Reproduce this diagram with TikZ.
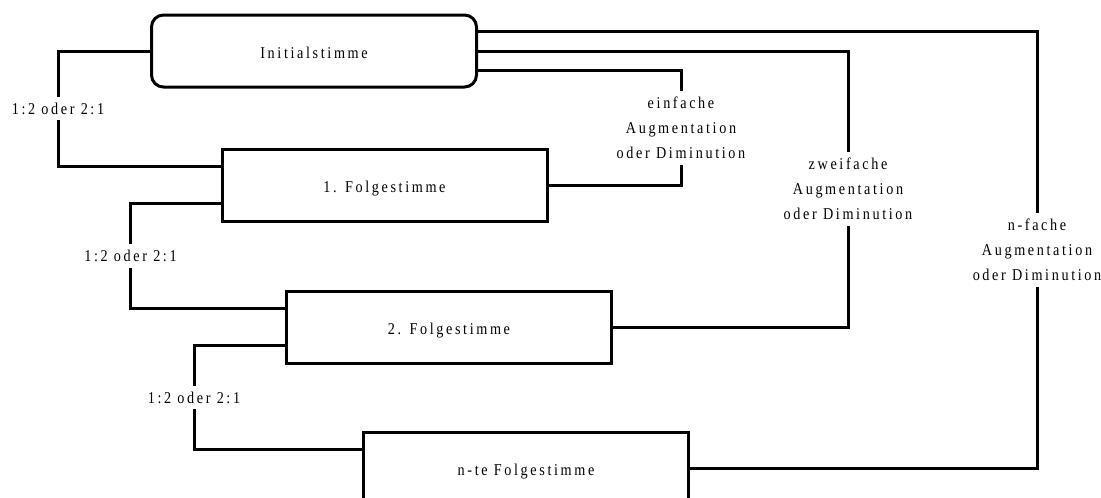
\documentclass[tikz,border=0pt]{standalone}
\usepackage{fontspec}
\setmainfont{Liberation Serif}[LetterSpace=16, FakeStretch=0.86]
\usetikzlibrary{calc}

\begin{document}
\begin{tikzpicture}[x=1pt,y=-1pt,
  line width=3pt,
  every node/.style={font=\fontsize{16.5}{25}\selectfont},
  voice/.style={draw, line width=3pt, minimum width=325pt, minimum height=72pt,
    inner sep=0pt, text height=14pt, text depth=0pt},
  lab/.style={fill=white, inner xsep=2pt, inner ysep=6pt, align=center}
]
\useasboundingbox (0,0) rectangle (1101,498);

% the voices
\node[voice, rounded corners=12pt] (init) at (314,51) {Initialstimme};
\node[voice] (f1) at (384.5,185) {1. Folgestimme};
\node[voice] (f2) at (449,327) {2. Folgestimme};
\node[voice] (fn) at (526,468) {n-te Folgestimme};

% attachment points on the sides of the boxes
\coordinate (ie1) at ($(init.north east)!0.24!(init.south east)$);
\coordinate (ie3) at ($(init.north east)!0.76!(init.south east)$);
\coordinate (f1in)  at ($(f1.north west)!0.25!(f1.south west)$);
\coordinate (f1out) at ($(f1.north west)!0.75!(f1.south west)$);
\coordinate (f2in)  at ($(f2.north west)!0.25!(f2.south west)$);
\coordinate (f2out) at ($(f2.north west)!0.75!(f2.south west)$);
\coordinate (fnin)  at ($(fn.north west)!0.25!(fn.south west)$);

% proportion links on the left
\draw (init.west) -- ++(-92,0) |- node[lab,pos=0.25]{1:2 oder 2:1} (f1in);
\draw (f1out) -- ++(-90,0) |- node[lab,pos=0.25]{1:2 oder 2:1} (f2in);
\draw (f2out) -- ++(-91,0) |- node[lab,pos=0.25]{1:2 oder 2:1} (fnin);

% augmentation / diminution links on the right
\draw (ie3) -- ++(203,0) |- node[lab,pos=0.25]{einfache\\Augmentation\\oder Diminution} (f1.east);
\draw (init.east) -- ++(370,0) |- node[lab,pos=0.25]{zweifache\\Augmentation\\oder Diminution} (f2.east);
\draw (ie1) -- ++(559,0) |- node[lab,pos=0.25]{n-fache\\Augmentation\\oder Diminution} (fn.east);
\end{tikzpicture}
\end{document}
